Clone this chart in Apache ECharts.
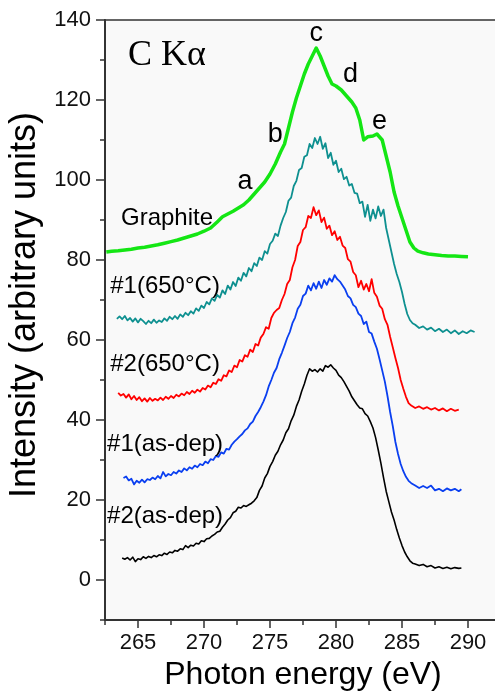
<!DOCTYPE html>
<html>
<head>
<meta charset="utf-8">
<script src="https://cdn.jsdelivr.net/npm/echarts@6/dist/echarts.min.js"></script>
<style>
html,body{margin:0;padding:0;background:#fff;}
#chart{width:495px;height:696px;}
</style>
</head>
<body>
<div id="chart"></div>
<script>
// ---- data ----
var xMajorTicks = [265, 270, 275, 280, 285, 290];
var xMinorTicks = [262.5, 267.5, 272.5, 277.5, 282.5, 287.5, 292.5];
var yMajorTicks = [0, 20, 40, 60, 80, 100, 120, 140];
var yMinorTicks = [-10, 10, 30, 50, 70, 90, 110, 130];

var graphite = [
 [262.6,82.0],[263.0,82.2],[263.5,82.3],[264.0,82.5],[264.5,82.7],[265.0,83.0],[265.5,83.2],[266.0,83.5],
 [266.5,83.8],[267.0,84.2],[267.5,84.6],[268.0,85.0],[268.5,85.5],[269.0,86.0],[269.5,86.5],[270.0,87.2],
 [270.5,88.0],[271.0,89.5],[271.4,90.8],[271.8,91.5],[272.2,92.2],[272.6,93.0],[273.0,93.8],[273.4,95.0],
 [273.8,96.5],[274.2,98.0],[274.6,99.5],[275.0,101.5],[275.4,104.0],[275.8,107.0],[276.1,109.0],[276.4,113.0],
 [276.7,117.0],[277.0,120.5],[277.3,123.5],[277.6,126.5],[277.9,129.0],[278.2,131.0],[278.5,133.0],[278.8,131.0],
 [279.1,128.5],[279.4,126.0],[279.7,124.0],[280.0,123.5],[280.4,122.5],[280.8,121.0],[281.2,119.5],[281.5,118.0],
 [281.8,115.0],[282.1,110.0],[282.4,110.8],[282.8,111.0],[283.1,111.5],[283.5,110.0],[283.8,106.0],[284.1,102.0],
 [284.4,97.0],[284.7,93.5],[285.0,90.5],[285.3,87.5],[285.6,84.5],[285.9,83.0],[286.2,82.2],[286.6,81.8],
 [287.0,81.5],[287.5,81.3],[288.0,81.1],[288.5,81.0],[289.0,81.0],[289.5,80.9],[290.0,80.8]
];
var s1_650 = [
 [263.4,65.3],[263.6,65.9],[263.8,65.2],[264.0,66.0],[264.2,64.9],[264.4,65.5],[264.6,64.6],[264.8,65.4],
 [265.0,64.4],[265.2,65.3],[265.4,64.7],[265.6,64.0],[265.8,64.8],[266.0,64.2],[266.2,65.1],[266.4,64.3],
 [266.6,64.9],[266.8,64.5],[267.0,65.4],[267.2,64.8],[267.4,65.8],[267.6,65.2],[267.8,66.0],[268.0,65.3],
 [268.2,66.4],[268.4,65.8],[268.6,66.8],[268.8,66.2],[269.0,67.2],[269.2,66.6],[269.4,67.9],[269.6,67.3],
 [269.8,68.6],[270.0,68.0],[270.2,69.5],[270.4,68.9],[270.6,70.4],[270.8,69.8],[271.0,71.3],[271.2,70.6],
 [271.4,72.4],[271.6,71.5],[271.8,73.6],[272.0,72.6],[272.2,74.5],[272.4,73.5],[272.6,75.6],[272.8,74.8],
 [273.0,76.8],[273.2,75.9],[273.4,78.0],[273.6,77.2],[273.8,79.2],[274.0,78.5],[274.2,80.6],[274.4,80.0],
 [274.6,82.2],[274.8,81.6],[275.0,84.0],[275.2,84.8],[275.4,86.6],[275.6,86.0],[275.8,88.6],[276.0,90.5],
 [276.2,92.0],[276.4,94.8],[276.6,95.6],[276.8,98.5],[277.0,99.8],[277.2,102.5],[277.4,103.0],[277.6,105.8],
 [277.8,106.2],[278.0,109.0],[278.2,108.0],[278.4,110.5],[278.6,109.0],[278.8,110.8],[279.0,107.8],[279.2,109.2],
 [279.4,105.5],[279.6,106.8],[279.8,103.8],[280.0,104.8],[280.2,102.0],[280.4,102.8],[280.6,100.2],[280.8,100.8],
 [281.0,98.6],[281.2,99.0],[281.4,96.8],[281.6,96.6],[281.8,94.2],[282.0,94.6],[282.2,90.8],[282.4,93.8],
 [282.6,89.8],[282.8,92.6],[283.0,90.4],[283.2,93.4],[283.4,91.0],[283.6,92.6],[283.8,88.0],[284.0,85.0],
 [284.2,82.0],[284.4,79.0],[284.6,76.5],[284.8,74.5],[285.0,72.0],[285.2,69.0],[285.4,66.5],[285.6,65.0],
 [285.8,64.2],[286.0,63.8],[286.3,63.0],[286.6,63.4],[286.9,62.6],[287.2,63.1],[287.5,62.2],[287.8,62.8],
 [288.1,62.0],[288.4,62.6],[288.7,61.7],[289.0,62.4],[289.3,61.5],[289.6,62.2],[289.9,61.7],[290.2,62.4],
 [290.5,62.0]
];
var s2_650 = [
 [263.5,46.8],[263.7,46.1],[263.9,46.5],[264.1,45.6],[264.3,46.4],[264.5,45.2],[264.7,46.0],[264.9,45.0],
 [265.1,45.7],[265.3,44.7],[265.5,45.4],[265.7,44.6],[265.9,45.5],[266.1,44.8],[266.3,45.3],[266.5,44.9],
 [266.7,45.6],[266.9,45.0],[267.1,45.8],[267.3,45.3],[267.5,46.0],[267.7,45.5],[267.9,46.3],[268.1,45.9],
 [268.3,46.6],[268.5,46.2],[268.7,47.0],[268.9,46.5],[269.1,47.3],[269.3,46.8],[269.5,47.6],[269.7,47.1],
 [269.9,48.0],[270.1,47.6],[270.3,48.6],[270.5,48.2],[270.7,49.3],[270.9,49.0],[271.1,50.2],[271.3,49.8],
 [271.5,51.2],[271.7,50.9],[271.9,52.4],[272.1,52.0],[272.3,53.6],[272.5,53.2],[272.7,55.0],[272.9,54.6],
 [273.1,56.2],[273.3,55.8],[273.5,57.6],[273.7,57.0],[273.9,59.0],[274.1,58.6],[274.3,60.6],[274.5,61.5],
 [274.7,63.2],[274.9,62.8],[275.1,65.5],[275.3,66.8],[275.5,67.5],[275.7,68.0],[275.9,70.0],[276.1,71.5],
 [276.3,74.0],[276.5,75.0],[276.7,78.2],[276.9,80.0],[277.1,83.5],[277.3,84.5],[277.5,87.5],[277.7,88.2],
 [277.9,91.0],[278.1,90.5],[278.3,93.2],[278.5,91.2],[278.7,92.4],[278.9,89.5],[279.1,90.6],[279.3,87.8],
 [279.5,88.6],[279.7,86.2],[279.9,87.2],[280.1,85.0],[280.3,85.8],[280.5,83.6],[280.7,83.0],[280.9,80.2],
 [281.1,79.6],[281.3,77.0],[281.5,76.2],[281.7,73.2],[281.9,74.8],[282.1,72.6],[282.3,74.0],[282.5,72.2],
 [282.7,75.2],[282.9,71.8],[283.1,70.8],[283.3,68.6],[283.5,67.8],[283.7,65.2],[283.9,63.8],[284.1,60.8],
 [284.3,58.2],[284.5,55.5],[284.7,53.0],[284.9,50.0],[285.1,47.8],[285.3,45.8],[285.5,44.2],[285.7,43.6],
 [286.0,43.0],[286.3,43.4],[286.6,42.8],[286.9,43.2],[287.2,42.6],[287.5,43.0],[287.8,42.4],[288.1,42.9],
 [288.4,42.2],[288.7,42.8],[289.0,42.3],[289.3,42.6]
];
var s1_dep = [
 [263.9,25.5],[264.1,25.9],[264.3,24.9],[264.5,25.3],[264.7,23.9],[264.9,24.8],[265.1,24.3],[265.3,25.1],
 [265.5,24.4],[265.7,25.2],[265.9,25.0],[266.1,25.6],[266.3,25.2],[266.5,26.0],[266.7,25.4],[266.9,27.0],
 [267.1,25.9],[267.3,26.5],[267.5,26.2],[267.7,27.0],[267.9,26.6],[268.1,27.4],[268.3,27.0],[268.5,27.9],
 [268.7,27.4],[268.9,28.2],[269.1,27.8],[269.3,28.6],[269.5,28.2],[269.7,29.0],[269.9,28.7],[270.1,29.6],
 [270.3,29.2],[270.5,30.2],[270.7,30.0],[270.9,31.0],[271.1,30.8],[271.3,31.9],[271.5,31.6],[271.7,32.8],
 [271.9,32.6],[272.1,33.8],[272.3,34.6],[272.5,35.2],[272.7,35.9],[272.9,36.5],[273.1,37.4],[273.3,37.9],
 [273.5,39.0],[273.7,39.6],[273.9,41.0],[274.1,42.0],[274.3,43.2],[274.5,44.6],[274.7,46.2],[274.9,48.4],
 [275.1,50.0],[275.3,51.8],[275.5,53.0],[275.7,55.2],[275.9,56.8],[276.1,58.6],[276.3,60.5],[276.5,62.0],
 [276.7,64.2],[276.9,65.6],[277.1,67.8],[277.3,68.8],[277.5,71.0],[277.7,71.6],[277.9,73.6],[278.1,72.4],
 [278.3,74.2],[278.5,72.8],[278.7,74.6],[278.9,73.0],[279.1,75.0],[279.3,73.8],[279.5,75.4],[279.7,74.6],
 [279.9,76.2],[280.1,75.2],[280.3,74.6],[280.5,73.6],[280.7,72.6],[280.9,71.0],[281.1,70.4],[281.3,68.8],
 [281.5,68.2],[281.7,66.6],[281.9,66.0],[282.1,64.0],[282.3,64.6],[282.5,62.0],[282.7,61.6],[282.9,59.6],
 [283.1,57.8],[283.3,55.2],[283.5,52.4],[283.7,49.6],[283.9,46.0],[284.1,42.0],[284.3,38.5],[284.5,34.5],
 [284.7,31.5],[284.9,29.0],[285.1,27.2],[285.3,25.8],[285.5,24.8],[285.7,24.2],[286.0,23.6],[286.3,23.0],
 [286.6,23.5],[286.9,23.0],[287.2,23.6],[287.5,22.4],[287.8,22.8],[288.1,22.2],[288.4,22.9],[288.7,22.4],
 [289.0,22.8],[289.3,22.2],[289.5,22.7]
];
var s2_dep = [
 [263.8,5.5],[264.0,5.2],[264.2,5.6],[264.4,5.0],[264.6,5.7],[264.8,4.6],[265.0,5.3],[265.2,5.1],
 [265.4,5.8],[265.6,5.4],[265.8,5.9],[266.0,5.6],[266.2,6.1],[266.4,5.8],[266.6,6.3],[266.8,6.1],
 [267.0,6.7],[267.2,6.4],[267.4,7.0],[267.6,6.8],[267.8,7.4],[268.0,7.2],[268.2,7.8],[268.4,7.6],
 [268.6,8.6],[268.8,8.1],[269.0,8.7],[269.2,8.5],[269.4,9.2],[269.6,9.0],[269.8,9.8],[270.0,9.6],
 [270.2,10.3],[270.4,10.4],[270.6,11.0],[270.8,11.4],[271.0,12.0],[271.2,12.2],[271.4,13.2],[271.6,14.0],
 [271.8,15.0],[272.0,15.6],[272.2,16.8],[272.4,17.2],[272.6,18.2],[272.8,18.0],[273.0,18.6],[273.2,18.4],
 [273.4,18.8],[273.6,19.2],[273.8,19.8],[274.0,20.6],[274.2,22.4],[274.4,23.5],[274.6,25.5],[274.8,26.6],
 [275.0,28.4],[275.2,29.6],[275.4,31.2],[275.6,32.2],[275.8,33.8],[276.0,35.0],[276.2,36.8],[276.4,37.8],
 [276.6,39.8],[276.8,41.2],[277.0,43.4],[277.2,45.0],[277.4,47.2],[277.6,49.0],[277.8,51.2],[278.0,52.8],
 [278.2,52.2],[278.4,52.6],[278.6,52.0],[278.8,52.8],[279.0,52.2],[279.2,53.6],[279.4,53.2],[279.6,53.8],
 [279.8,53.0],[280.0,52.4],[280.2,51.2],[280.4,50.6],[280.6,49.6],[280.8,48.4],[281.0,47.2],[281.2,45.8],
 [281.4,44.8],[281.6,43.8],[281.8,43.0],[282.0,42.8],[282.2,41.6],[282.4,41.0],[282.6,39.6],[282.8,38.0],
 [283.0,35.6],[283.2,32.5],[283.4,29.2],[283.6,25.6],[283.8,22.2],[284.0,19.6],[284.2,17.0],[284.4,15.0],
 [284.6,12.6],[284.8,10.5],[285.0,8.6],[285.2,7.0],[285.4,5.8],[285.6,4.8],[285.8,4.2],[286.0,4.0],
 [286.3,3.6],[286.6,3.9],[286.9,3.3],[287.2,3.6],[287.5,3.0],[287.8,3.3],[288.1,2.9],[288.4,3.2],
 [288.7,2.8],[289.0,3.1],[289.3,2.9],[289.5,3.0]
];

// annotation texts with their data-space anchor
var curveLabels = ['Graphite', '#1(650°C)', '#2(650°C)', '#1(as-dep)', '#2(as-dep)'];
var curveLabelX = [267.2, 267.05, 267.05, 267.05, 267.05];
var curveLabelY = [90.5, 73.5, 54.0, 33.8, 15.8];
var peakLabels = ['a', 'b', 'c', 'd', 'e'];
var peakLabelX = [273.1, 275.4, 278.5, 281.1, 283.3];
var peakLabelY = [99.5, 111.25, 136.5, 126.25, 114.5];
var titleText = 'C Kα';
var titleX = 267.2, titleY = 131.0;

// ---- chart ----
var chart = echarts.init(document.getElementById('chart'), null, {renderer: 'canvas'});
var FONT = '"Liberation Sans", Arial, sans-serif';
var AXC = '#333';

function lineSeries(name, data, color, width) {
  return {
    name: name, type: 'line', data: data, showSymbol: false, symbol: 'none',
    xAxisIndex: 0, yAxisIndex: 0,
    lineStyle: {color: color, width: width, join: 'round'}, itemStyle: {color: color},
    animation: false, z: 3
  };
}

function txt(size, family) {
  return {show: true, position: 'inside', fontSize: size, fontFamily: family,
          color: '#000', opacity: 1, textBorderWidth: 0, textShadowBlur: 0};
}
var labelData = [];
curveLabels.forEach(function (t, i) {
  labelData.push({value: [curveLabelX[i], curveLabelY[i], t], label: txt(24, FONT)});
});
peakLabels.forEach(function (t, i) {
  labelData.push({value: [peakLabelX[i], peakLabelY[i], t], label: txt(27, FONT)});
});
labelData.push({value: [titleX, titleY, titleText],
  label: txt(36, '"Liberation Serif", "Times New Roman", serif')});

var option = {
  animation: false,
  backgroundColor: '#ffffff',
  grid: {left: 105, top: 20, right: -6, bottom: 76, show: true,
         containLabel: false, outerBoundsMode: 'none',
         backgroundColor: '#f9f9f9', borderColor: AXC, borderWidth: 1.5},
  xAxis: [{
    type: 'value', min: 262.5, max: 292.5, position: 'bottom',
    name: 'Photon energy (eV)', nameLocation: 'middle', nameGap: 38,
    nameTextStyle: {fontSize: 32, color: '#000', fontFamily: FONT},
    axisLine: {show: true, onZero: false, lineStyle: {color: AXC, width: 2}},
    axisTick: {show: true, inside: false, length: 8, customValues: xMajorTicks,
               lineStyle: {color: AXC, width: 1.5}},
    axisLabel: {show: true, customValues: xMajorTicks, fontSize: 22, color: '#111',
                fontFamily: FONT, margin: 12, hideOverlap: false},
    splitLine: {show: false}
  }, {
    type: 'value', min: 262.5, max: 292.5, position: 'bottom',
    axisLine: {show: false, onZero: false},
    axisTick: {show: true, inside: false, length: 5, customValues: xMinorTicks,
               lineStyle: {color: AXC, width: 1.5}},
    axisLabel: {show: false}, splitLine: {show: false}
  }],
  yAxis: [{
    type: 'value', min: -10, max: 140, position: 'left',
    name: 'Intensity (arbitrary units)', nameLocation: 'middle', nameGap: 62,
    nameTextStyle: {fontSize: 36, color: '#000', fontFamily: FONT, padding: [0, 0, 0, 30]},
    axisLine: {show: true, onZero: false, lineStyle: {color: AXC, width: 2}},
    axisTick: {show: true, inside: false, length: 9, customValues: yMajorTicks,
               lineStyle: {color: AXC, width: 1.5}},
    axisLabel: {show: true, customValues: yMajorTicks, fontSize: 22, color: '#111',
                fontFamily: FONT, margin: 14},
    splitLine: {show: false}
  }, {
    type: 'value', min: -10, max: 140, position: 'left',
    axisLine: {show: false, onZero: false},
    axisTick: {show: true, inside: false, length: 5, customValues: yMinorTicks,
               lineStyle: {color: AXC, width: 1.5}},
    axisLabel: {show: false}, splitLine: {show: false}
  }],
  series: [
    lineSeries('#2(as-dep)', s2_dep, '#000000', 1.6),
    lineSeries('#1(as-dep)', s1_dep, '#0a3ff0', 1.8),
    lineSeries('#2(650°C)', s2_650, '#ff0000', 1.8),
    lineSeries('#1(650°C)', s1_650, '#0e9090', 1.8),
    lineSeries('Graphite', graphite, '#14e614', 3.5),
    {
      type: 'scatter', xAxisIndex: 0, yAxisIndex: 0, symbolSize: 0, z: 5,
      data: labelData, silent: true,
      itemStyle: {opacity: 1},
      label: {show: true, position: 'inside', color: '#000',
              formatter: function (p) { return p.value[2]; }}
    }
  ]
};
chart.setOption(option);
</script>
</body>
</html>
